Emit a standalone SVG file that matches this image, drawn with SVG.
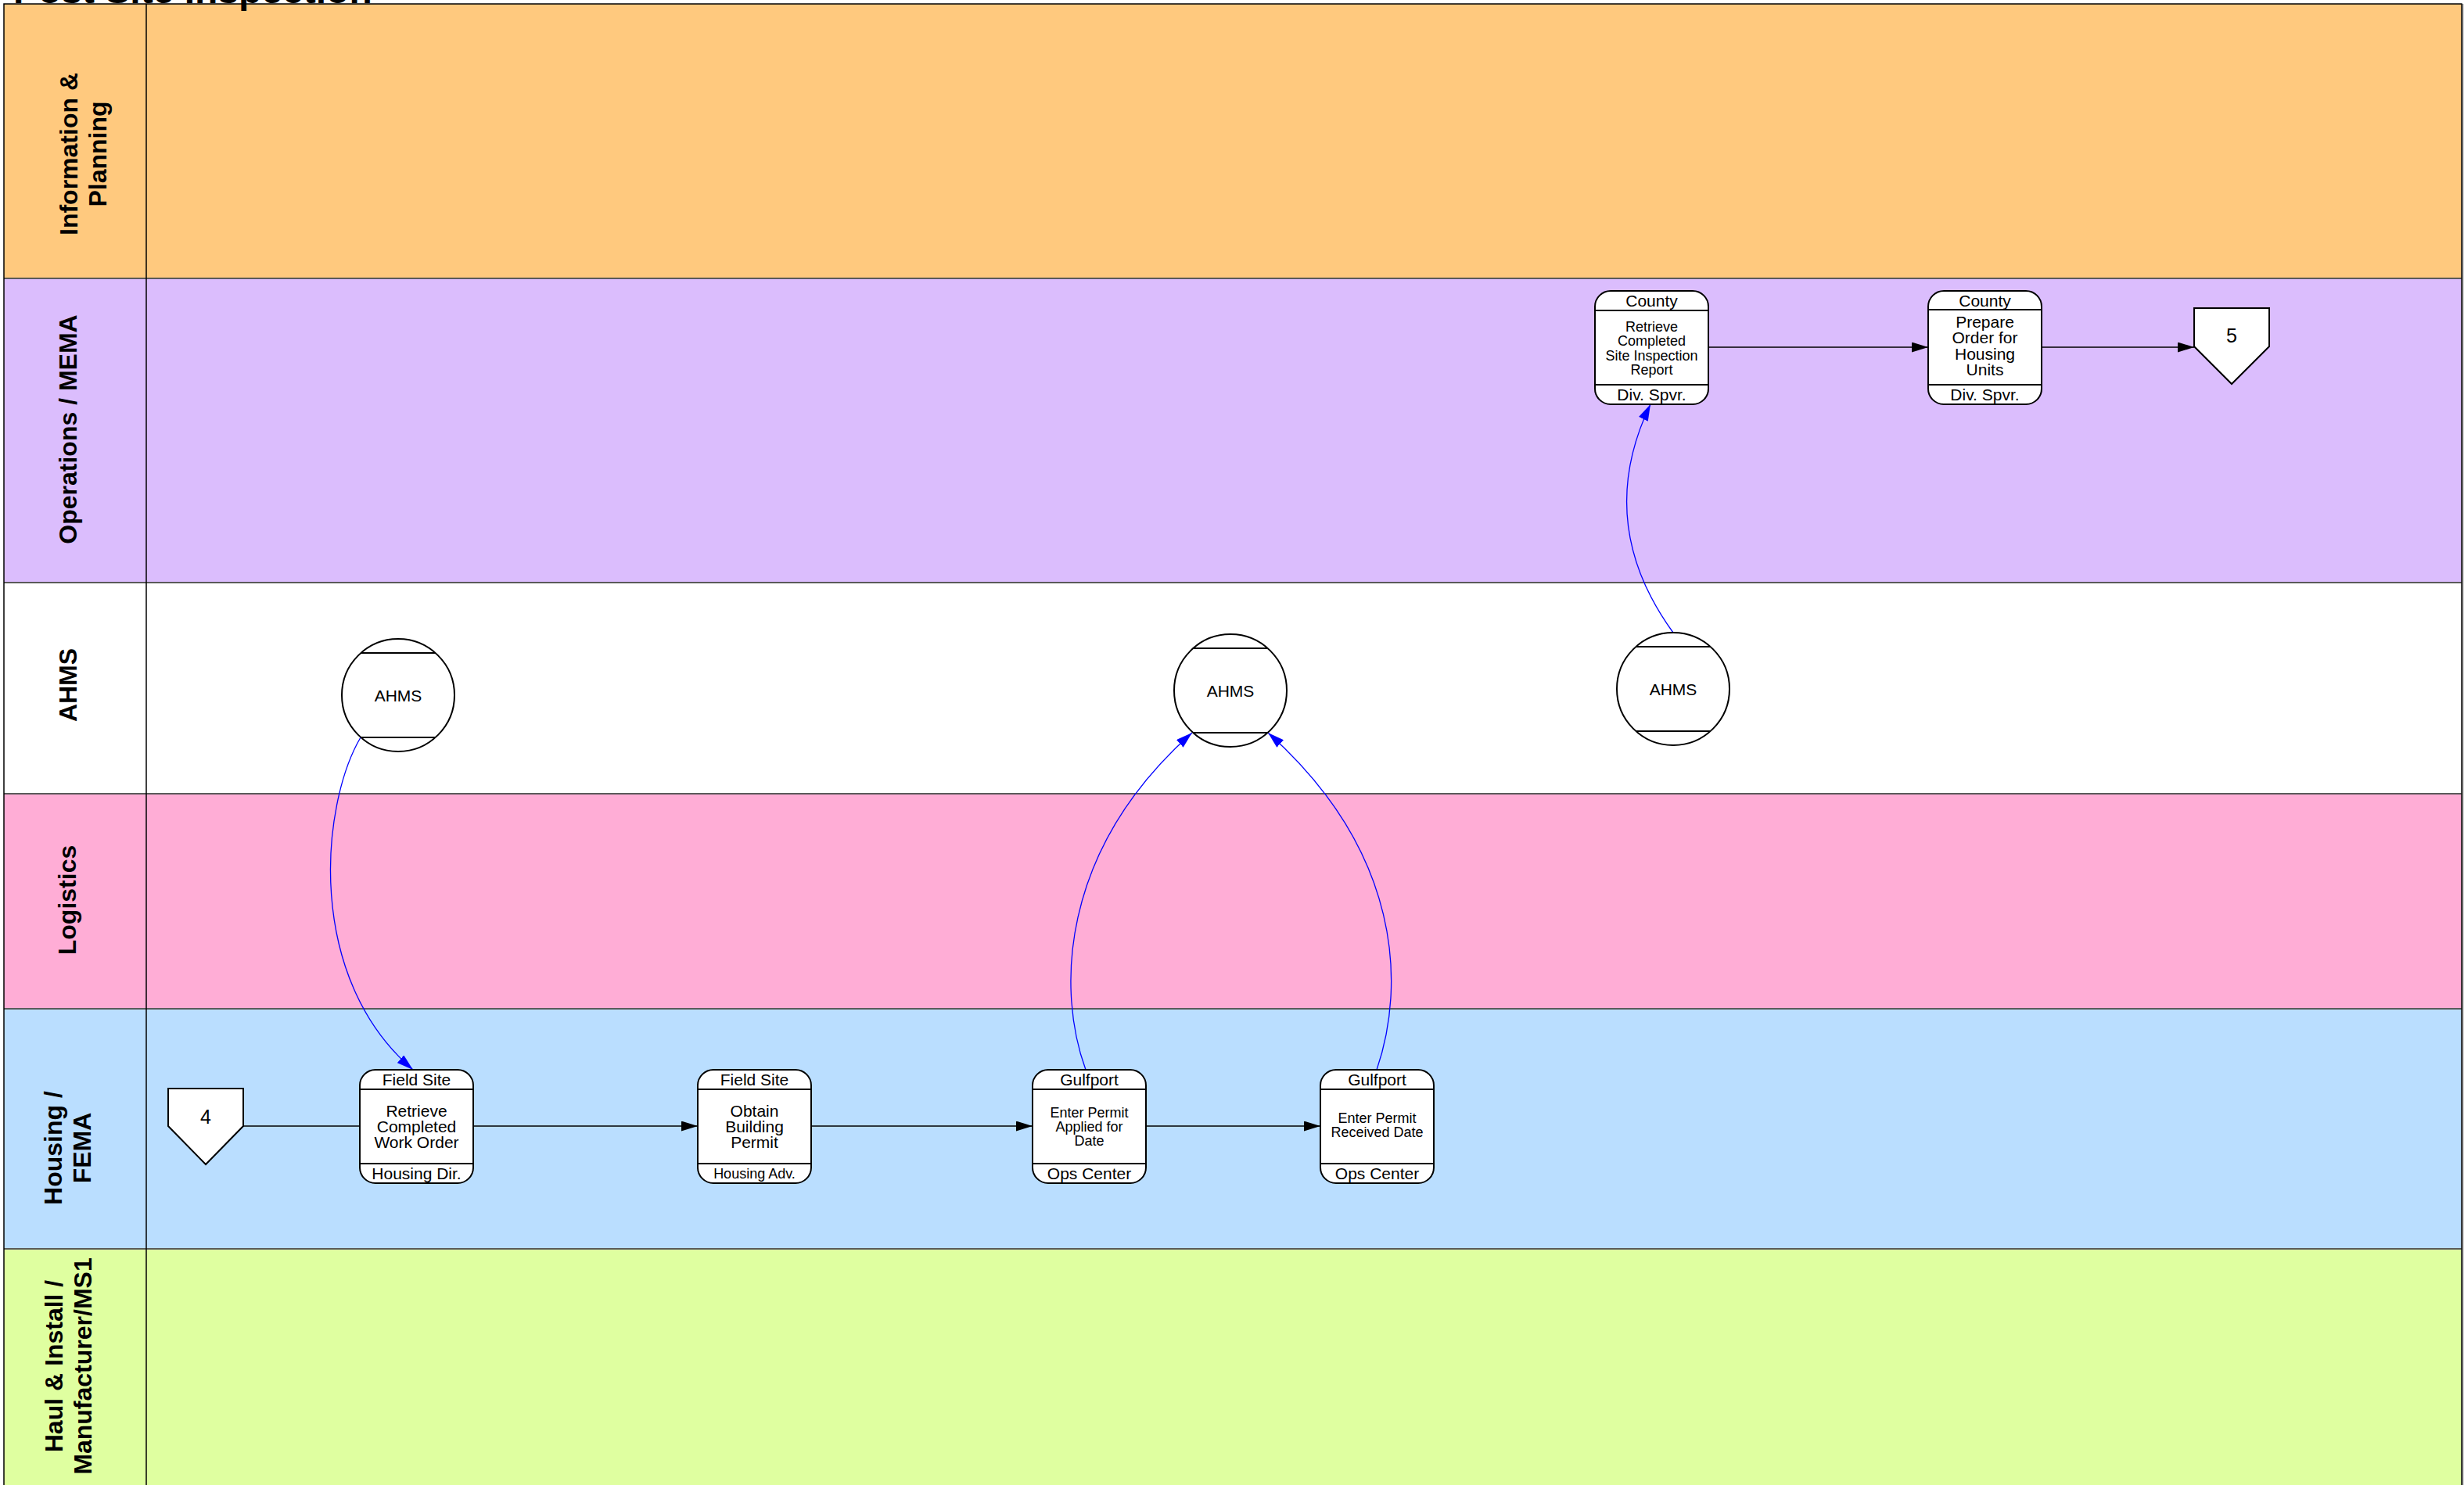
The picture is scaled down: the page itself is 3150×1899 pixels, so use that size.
<svg xmlns="http://www.w3.org/2000/svg" width="3150" height="1899" viewBox="0 0 3150 1899">
<style>
text{font-family:"Liberation Sans",Arial,sans-serif;fill:#000}
.lane{font-size:32px;font-weight:bold;text-anchor:middle}
.nd rect,.nd circle,.nd polygon{fill:#fff;stroke:#000;stroke-width:2}
.nd line{stroke:#000;stroke-width:2}
.hd{font-size:21px;text-anchor:middle}
.b18{font-size:18px;text-anchor:middle}
.b21{font-size:21px;text-anchor:middle}
.f18{font-size:18px;text-anchor:middle}
.op{font-size:25px;text-anchor:middle}
.cn{fill:none;stroke:#000;stroke-width:1.4}
.bl{fill:none;stroke:#0000ff;stroke-width:1.3}
.sep{stroke:#5a5a5a;stroke-width:2}
</style>
<defs>
<marker id="ak" markerUnits="userSpaceOnUse" markerWidth="21" markerHeight="13" refX="21" refY="6.5" orient="auto"><path d="M0,0 L21,6.5 L0,13 z" fill="#000"/></marker>
<marker id="ab" markerUnits="userSpaceOnUse" markerWidth="21" markerHeight="13" refX="21" refY="6.5" orient="auto"><path d="M0,0 L21,6.5 L0,13 z" fill="#0000ff"/></marker>
</defs>
<rect x="0" y="0" width="3150" height="1899" fill="#fff"/>
<g id="lanes">
<rect x="5" y="5" width="3142" height="351" fill="#FFC97E"/>
<rect x="5" y="356" width="3142" height="389" fill="#DBBDFD"/>
<rect x="5" y="745" width="3142" height="270" fill="#FFFFFF"/>
<rect x="5" y="1015" width="3142" height="275" fill="#FFADD6"/>
<rect x="5" y="1290" width="3142" height="307" fill="#BADEFF"/>
<rect x="5" y="1597" width="3142" height="320" fill="#DFFFA0"/>
<line class="sep" x1="5" y1="356" x2="3147" y2="356"/>
<line class="sep" x1="5" y1="745" x2="3147" y2="745"/>
<line class="sep" x1="5" y1="1015" x2="3147" y2="1015"/>
<line class="sep" x1="5" y1="1290" x2="3147" y2="1290"/>
<line class="sep" x1="5" y1="1597" x2="3147" y2="1597"/>
<line x1="187" y1="5" x2="187" y2="1910" stroke="#000" stroke-width="1.5"/>
<path d="M5,1910 V5 H3147 V1910" fill="none" stroke="#000" stroke-width="1.5"/>
<line x1="3148.5" y1="5" x2="3148.5" y2="1910" stroke="#777" stroke-width="1.5"/>
<text class="lane" transform="translate(99,197) rotate(-90)">Information &amp;</text>
<text class="lane" transform="translate(136,197) rotate(-90)">Planning</text>
<text class="lane" transform="translate(98,549) rotate(-90)">Operations / MEMA</text>
<text class="lane" transform="translate(98,876) rotate(-90)">AHMS</text>
<text class="lane" transform="translate(97,1151) rotate(-90)">Logistics</text>
<text class="lane" transform="translate(79,1468) rotate(-90)">Housing /</text>
<text class="lane" transform="translate(116,1468) rotate(-90)">FEMA</text>
<text class="lane" transform="translate(80,1747) rotate(-90)">Haul &amp; Install /</text>
<text class="lane" transform="translate(117,1747) rotate(-90)">Manufacturer/MS1</text>
</g>
<text x="17" y="4" font-size="48" font-weight="bold">Post Site Inspection</text>
<g id="connectors">
<path class="cn" d="M2184,444 L2465,444" marker-end="url(#ak)"/>
<path class="cn" d="M2610,444 L2805,444" marker-end="url(#ak)"/>
<path class="cn" d="M311,1440 L460,1440"/>
<path class="cn" d="M605,1440 L892,1440" marker-end="url(#ak)"/>
<path class="cn" d="M1037,1440 L1320,1440" marker-end="url(#ak)"/>
<path class="cn" d="M1465,1440 L1688,1440" marker-end="url(#ak)"/>
<path class="bl" d="M461,943 C410,1030 390,1250 528,1368" marker-end="url(#ab)"/>
<path class="bl" d="M1388,1368 C1352,1270 1352,1090 1524,937" marker-end="url(#ab)"/>
<path class="bl" d="M1760,1368 C1797,1260 1792,1090 1621,937" marker-end="url(#ab)"/>
<path class="bl" d="M2139,809 C2060,700 2070,600 2110,517" marker-end="url(#ab)"/>
</g>
<g id="node-retrieve-site-report" class="nd">
<rect x="2039" y="372" width="145" height="145" rx="20"/>
<line x1="2039" y1="397" x2="2184" y2="397"/>
<line x1="2039" y1="492" x2="2184" y2="492"/>
<text class="hd" x="2111.5" y="392">County</text>
<text class="b18" x="2111.5"><tspan x="2111.5" y="423.5">Retrieve</tspan><tspan x="2111.5" y="442">Completed</tspan><tspan x="2111.5" y="460.5">Site Inspection</tspan><tspan x="2111.5" y="479">Report</tspan></text>
<text class="hd" x="2111.5" y="512">Div. Spvr.</text>
</g>
<g id="node-prepare-order" class="nd">
<rect x="2465" y="372" width="145" height="145" rx="20"/>
<line x1="2465" y1="396" x2="2610" y2="396"/>
<line x1="2465" y1="492" x2="2610" y2="492"/>
<text class="hd" x="2537.5" y="392">County</text>
<text class="b21" x="2537.5"><tspan x="2537.5" y="418.5">Prepare</tspan><tspan x="2537.5" y="439">Order for</tspan><tspan x="2537.5" y="459.5">Housing</tspan><tspan x="2537.5" y="480">Units</tspan></text>
<text class="hd" x="2537.5" y="512">Div. Spvr.</text>
</g>
<g id="node-offpage-5" class="nd">
<polygon points="2805,394 2901,394 2901,443 2853,491 2805,443"/>
<text class="op" x="2853" y="438">5</text>
</g>
<g id="node-ahms-1" class="nd">
<circle cx="509" cy="889" r="72"/>
<line x1="461" y1="835" x2="557" y2="835"/>
<line x1="461" y1="943" x2="557" y2="943"/>
<text class="b21" x="509" y="896.5">AHMS</text>
</g>
<g id="node-ahms-2" class="nd">
<circle cx="1573" cy="883" r="72"/>
<line x1="1525" y1="829" x2="1621" y2="829"/>
<line x1="1525" y1="937" x2="1621" y2="937"/>
<text class="b21" x="1573" y="890.5">AHMS</text>
</g>
<g id="node-ahms-3" class="nd">
<circle cx="2139" cy="881" r="72"/>
<line x1="2091" y1="827" x2="2187" y2="827"/>
<line x1="2091" y1="935" x2="2187" y2="935"/>
<text class="b21" x="2139" y="888.5">AHMS</text>
</g>
<g id="node-offpage-4" class="nd">
<polygon points="215,1392 311,1392 311,1440 263,1489 215,1440"/>
<text class="op" x="263" y="1437">4</text>
</g>
<g id="node-retrieve-work-order" class="nd">
<rect x="460" y="1368" width="145" height="145" rx="20"/>
<line x1="460" y1="1393" x2="605" y2="1393"/>
<line x1="460" y1="1488" x2="605" y2="1488"/>
<text class="hd" x="532.5" y="1388">Field Site</text>
<text class="b21" x="532.5"><tspan x="532.5" y="1427.5">Retrieve</tspan><tspan x="532.5" y="1447.5">Completed</tspan><tspan x="532.5" y="1467.5">Work Order</tspan></text>
<text class="hd" x="532.5" y="1508">Housing Dir.</text>
</g>
<g id="node-obtain-permit" class="nd">
<rect x="892" y="1368" width="145" height="145" rx="20"/>
<line x1="892" y1="1393" x2="1037" y2="1393"/>
<line x1="892" y1="1488" x2="1037" y2="1488"/>
<text class="hd" x="964.5" y="1388">Field Site</text>
<text class="b21" x="964.5"><tspan x="964.5" y="1427.5">Obtain</tspan><tspan x="964.5" y="1447.5">Building</tspan><tspan x="964.5" y="1467.5">Permit</tspan></text>
<text class="f18" x="964.5" y="1507">Housing Adv.</text>
</g>
<g id="node-permit-applied" class="nd">
<rect x="1320" y="1368" width="145" height="145" rx="20"/>
<line x1="1320" y1="1393" x2="1465" y2="1393"/>
<line x1="1320" y1="1488" x2="1465" y2="1488"/>
<text class="hd" x="1392.5" y="1388">Gulfport</text>
<text class="b18" x="1392.5"><tspan x="1392.5" y="1428.5">Enter Permit</tspan><tspan x="1392.5" y="1446.5">Applied for</tspan><tspan x="1392.5" y="1464.5">Date</tspan></text>
<text class="hd" x="1392.5" y="1508">Ops Center</text>
</g>
<g id="node-permit-received" class="nd">
<rect x="1688" y="1368" width="145" height="145" rx="20"/>
<line x1="1688" y1="1393" x2="1833" y2="1393"/>
<line x1="1688" y1="1488" x2="1833" y2="1488"/>
<text class="hd" x="1760.5" y="1388">Gulfport</text>
<text class="b18" x="1760.5"><tspan x="1760.5" y="1436">Enter Permit</tspan><tspan x="1760.5" y="1454">Received Date</tspan></text>
<text class="hd" x="1760.5" y="1508">Ops Center</text>
</g>
</svg>
